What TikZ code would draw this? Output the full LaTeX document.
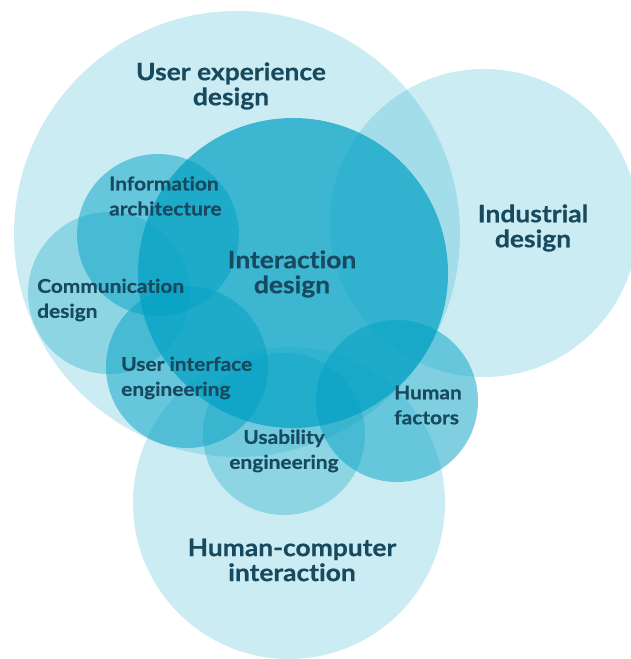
\documentclass[tikz,border=0pt]{standalone}
\usepackage{fontspec}
\setmainfont{Lato}[Ligatures=NoCommon, FakeStretch=1.1, BoldFeatures={FakeBold=0.6}]
\usepackage{tikz}

\definecolor{venncyan}{RGB}{0,160,195}
\definecolor{vennink}{RGB}{23,74,94}

\tikzset{
  faint/.style={fill=venncyan, fill opacity=0.2},
  pale/.style={fill=venncyan, fill opacity=0.3},
  medium/.style={fill=venncyan, fill opacity=0.5},
  strong/.style={fill=venncyan, fill opacity=0.7},
  biglabel/.style={text=vennink, font=\fontsize{24}{25}\selectfont\bfseries, align=center, inner sep=0pt},
  smalllabel/.style={text=vennink, font=\fontsize{19}{25}\selectfont\bfseries, align=left, inner sep=0pt, anchor=west},
}

\begin{document}
\begin{tikzpicture}[x=1pt,y=-1pt]
	\useasboundingbox (0,0) rectangle (631,659);
	
	% big fields
	\foreach \n/\x/\y/\r in
	{UX/237/234/223, ID/484/223/154, HCI/289/503/156}{
		\coordinate (\n) at (\x,\y);
		\fill[faint] (\n) circle[radius=\r pt];
	}
	
	% core
	\coordinate (IxD) at (293,273);
	\fill[strong] (IxD) circle[radius=155pt];
	
	% small fields
	\foreach \n/\x/\y/\s in
	{IA/158/235/medium, CD/109/293/pale, UIE/187/367/medium, UE/284/434/pale, HF/397/401/medium}{
		\coordinate (\n) at (\x,\y);
		\fill[\s] (\n) circle[radius=81pt];
	}
	
	% big labels
	\node[biglabel] (uxlabel) at (231,86) {User experience\\design};
	\node[biglabel] (idlabel) at (533,228) {Industrial\\design};
	\node[biglabel] (ixdlabel) at (292,274) {Interaction\\design};
	\node[biglabel] (hcilabel) at (292,560) {Human-computer\\interaction};
	
	% small labels
	\node[smalllabel] (ialabel) at (109,196) {Information\\architecture};
	\node[smalllabel] (cdlabel) at (37,300) {Communication\\design};
	\node[smalllabel] (uielabel) at (121,378) {User interface\\engineering};
	\node[smalllabel, anchor=center, align=center] (uelabel) at (284,451) {Usability\\engineering};
	\node[smalllabel] (hflabel) at (394,405) {Human\\factors};
\end{tikzpicture}
\end{document}
